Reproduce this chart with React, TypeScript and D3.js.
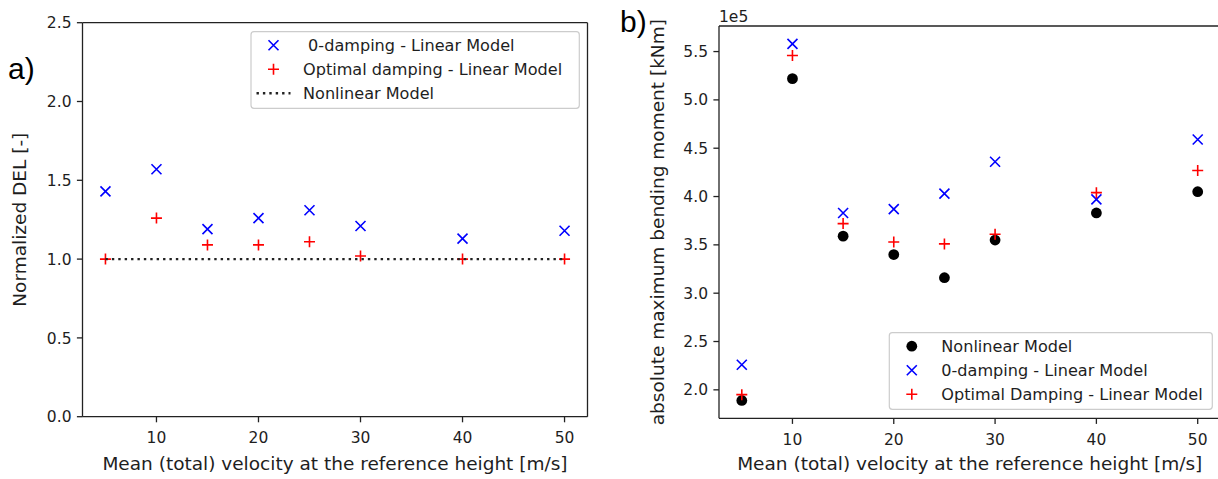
import React from 'react';
import * as d3 from 'd3';

// ---------- data ----------
const velocities = [5, 10, 15, 20, 25, 30, 40, 50];
const velocityTicks = [10, 20, 30, 40, 50];

// panel a) Normalized DEL [-]
const delZeroDamping = [1.43, 1.57, 1.19, 1.26, 1.31, 1.21, 1.13, 1.18];
const delOptimalDamping = [1.0, 1.26, 1.09, 1.09, 1.11, 1.02, 1.0, 1.0];
const delNonlinear = [1, 1, 1, 1, 1, 1, 1, 1];
const delTicks = [0, 0.5, 1.0, 1.5, 2.0, 2.5];

// panel b) absolute maximum bending moment [kNm] (x 1e5)
const momentNonlinear = [1.89, 5.22, 3.59, 3.4, 3.16, 3.55, 3.83, 4.05];
const momentZeroDamping = [2.26, 5.58, 3.83, 3.87, 4.03, 4.36, 3.97, 4.59];
const momentOptimalDamping = [1.95, 5.46, 3.72, 3.53, 3.51, 3.61, 4.04, 4.27];
const momentTicks = [2.0, 2.5, 3.0, 3.5, 4.0, 4.5, 5.0, 5.5];

const xLabel = 'Mean (total) velocity at the reference height [m/s]';
const yLabelA = 'Normalized DEL [-]';
const yLabelB = 'absolute maximum bending moment [kNm]';
const legendA = [' 0-damping - Linear Model', 'Optimal damping - Linear Model', 'Nonlinear Model'];
const legendB = ['Nonlinear Model', '0-damping - Linear Model', 'Optimal Damping - Linear Model'];

// ---------- style ----------
const FONT = '"DejaVu Sans", sans-serif';
const TXT = '#1e1e1e';
const SPINE = '#222';
const BLUE = '#0000ff';
const RED = '#ff0000';

function padded(vals: number[]): [number, number] {
  const [mn, mx] = d3.extent(vals) as [number, number];
  const m = (mx - mn) * 0.05;
  return [mn - m, mx + m];
}

const XMark = ({ x, y }: { x: number; y: number }) => (
  <path d={`M${x - 5},${y - 5}L${x + 5},${y + 5}M${x - 5},${y + 5}L${x + 5},${y - 5}`} stroke={BLUE} strokeWidth={1.6} fill="none" />
);
const PlusMark = ({ x, y }: { x: number; y: number }) => (
  <path d={`M${x - 5.5},${y}H${x + 5.5}M${x},${y - 5.5}V${y + 5.5}`} stroke={RED} strokeWidth={1.6} fill="none" />
);
const Dot = ({ x, y }: { x: number; y: number }) => <circle cx={x} cy={y} r={5.4} fill="#000" />;

function Axes({ x, y, yTicks, fmt, clipRight }: any) {
  const [x0, x1] = x.range();
  const [yb, yt] = y.range();
  return (
    <g>
      {/* ticks */}
      {velocityTicks.map((t) => (
        <g key={'xt' + t}>
          <line x1={x(t)} x2={x(t)} y1={yb} y2={yb + 5.6} stroke={SPINE} strokeWidth={1.3} />
          <text x={x(t)} y={yb + 26.5} textAnchor="middle" fontFamily={FONT} fontSize={15.5} fill={TXT}>{t}</text>
        </g>
      ))}
      {yTicks.map((t: number) => (
        <g key={'yt' + t}>
          <line x1={x0 - 5.6} x2={x0} y1={y(t)} y2={y(t)} stroke={SPINE} strokeWidth={1.3} />
          <text x={x0 - 11} y={y(t) + 5.6} textAnchor="end" fontFamily={FONT} fontSize={15.5} fill={TXT}>{fmt(t)}</text>
        </g>
      ))}
      {/* spines */}
      <line x1={x0} x2={x0} y1={yt} y2={yb} stroke={SPINE} strokeWidth={1.3} />
      <line x1={x0} x2={x1} y1={yb} y2={yb} stroke={SPINE} strokeWidth={1.3} />
      <line x1={x0} x2={x1} y1={yt} y2={yt} stroke={SPINE} strokeWidth={1.3} />
      {!clipRight && <line x1={x1} x2={x1} y1={yt} y2={yb} stroke={SPINE} strokeWidth={1.3} />}
    </g>
  );
}

function Legend({ left, top, width, items }: any) {
  return (
    <g>
      <rect x={left} y={top} width={width} height={76.6} rx={3} fill="#fff" fillOpacity={0.8} stroke="#cccccc" strokeWidth={1.2} />
      {items.map((it: any, i: number) => {
        const cy = top + 13.5 + i * 24;
        const mx = left + 22.5;
        return (
          <g key={i}>
            {it.kind === 'x' && <XMark x={mx} y={cy} />}
            {it.kind === '+' && <PlusMark x={mx} y={cy} />}
            {it.kind === 'o' && <Dot x={mx} y={cy} />}
            {it.kind === 'dot' && (
              <line x1={mx - 17} x2={mx + 17} y1={cy} y2={cy} stroke="#222" strokeWidth={2.4} strokeDasharray="2.4 4" />
            )}
            <text x={left + 52} y={cy + 5.8} fontFamily={FONT} fontSize={16.1} fill={TXT} style={{ whiteSpace: 'pre' }} xmlSpace="preserve">
              {it.label}
            </text>
          </g>
        );
      })}
    </g>
  );
}

export default function App() {
  // panel a
  const xA = d3.scaleLinear().domain(padded(velocities)).range([82.5, 587.5]);
  const yA = d3.scaleLinear().domain([0, 2.5]).range([416.7, 22.7]);
  // panel b
  const xB = d3.scaleLinear().domain(padded(velocities)).range([719, 1220.5]);
  const yB = d3
    .scaleLinear()
    .domain(padded([...momentNonlinear, ...momentZeroDamping, ...momentOptimalDamping]))
    .range([418.3, 26]);

  const fmt1 = d3.format('.1f');
  const nonlinearLine = d3
    .line<number>()
    .x((_, i) => xA(velocities[i]))
    .y((d) => yA(d));

  return (
    <svg width={1218} height={479} style={{ position: 'absolute', left: 0, top: 0, background: '#fff' }}>
      <rect x={0} y={0} width={1218} height={479} fill="#fff" />

      {/* ---------- panel a ---------- */}
      <text x={8} y={79} fontFamily='"Liberation Sans", Arial, sans-serif' fontSize={30} fill="#000">a)</text>
      <Axes x={xA} y={yA} yTicks={delTicks} fmt={fmt1} />
      {velocities.map((v, i) => <XMark key={'az' + i} x={xA(v)} y={yA(delZeroDamping[i])} />)}
      {velocities.map((v, i) => <PlusMark key={'ao' + i} x={xA(v)} y={yA(delOptimalDamping[i])} />)}
      <path d={nonlinearLine(delNonlinear) || ''} stroke="#222" strokeWidth={2.4} strokeDasharray="2.4 4" fill="none" />
      <Legend
        left={251}
        top={31.7}
        width={328.3}
        items={[
          { kind: 'x', label: legendA[0] },
          { kind: '+', label: legendA[1] },
          { kind: 'dot', label: legendA[2] },
        ]}
      />
      <text x={(82.5 + 587.5) / 2} y={470} textAnchor="middle" fontFamily={FONT} fontSize={18.5} fill={TXT}>{xLabel}</text>
      <text transform={`translate(26,${(416.7 + 22.7) / 2}) rotate(-90)`} textAnchor="middle" fontFamily={FONT} fontSize={18.5} fill={TXT}>{yLabelA}</text>

      {/* ---------- panel b ---------- */}
      <text x={620} y={32} fontFamily='"Liberation Sans", Arial, sans-serif' fontSize={30} fill="#000">b)</text>
      <Axes x={xB} y={yB} yTicks={momentTicks} fmt={fmt1} clipRight />
      <text x={719} y={22} fontFamily={FONT} fontSize={15.5} fill={TXT}>1e5</text>
      {velocities.map((v, i) => <Dot key={'bn' + i} x={xB(v)} y={yB(momentNonlinear[i])} />)}
      {velocities.map((v, i) => <XMark key={'bz' + i} x={xB(v)} y={yB(momentZeroDamping[i])} />)}
      {velocities.map((v, i) => <PlusMark key={'bo' + i} x={xB(v)} y={yB(momentOptimalDamping[i])} />)}
      <Legend
        left={889.3}
        top={332.7}
        width={323}
        items={[
          { kind: 'o', label: legendB[0] },
          { kind: 'x', label: legendB[1] },
          { kind: '+', label: legendB[2] },
        ]}
      />
      <text x={(719 + 1220.5) / 2} y={470} textAnchor="middle" fontFamily={FONT} fontSize={18.5} fill={TXT}>{xLabel}</text>
      <text transform={`translate(664,${(418.3 + 26) / 2}) rotate(-90)`} textAnchor="middle" fontFamily={FONT} fontSize={18.5} fill={TXT}>{yLabelB}</text>
    </svg>
  );
}
